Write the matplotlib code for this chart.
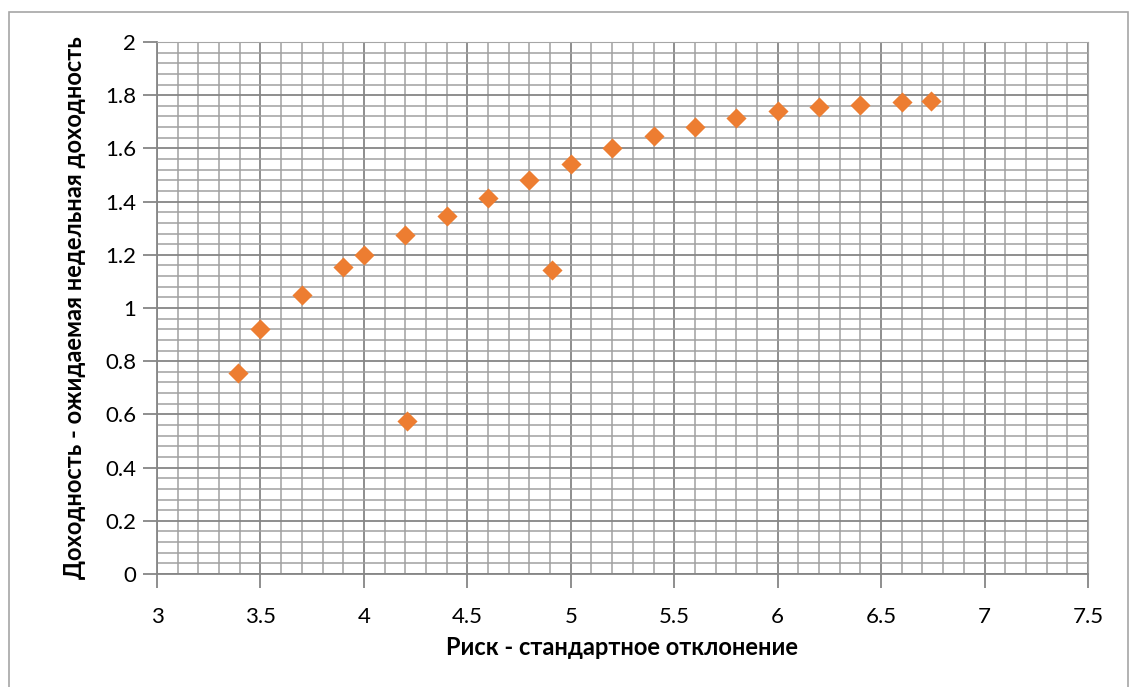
import matplotlib.pyplot as plt
from matplotlib.patches import Rectangle
from matplotlib.ticker import MultipleLocator

plt.rcParams['font.family'] = ['Lato', 'DejaVu Sans']

# риск (стандартное отклонение) и доходность портфелей
risk = [3.39, 3.50, 3.70, 3.90, 4.00, 4.20, 4.40, 4.60, 4.80, 5.00,
        5.20, 5.40, 5.60, 5.80, 6.00, 6.20, 6.40, 6.60, 6.74, 4.91, 4.21]
ret = [0.757, 0.922, 1.048, 1.155, 1.198, 1.276, 1.347, 1.414, 1.480, 1.543,
       1.602, 1.648, 1.680, 1.714, 1.740, 1.754, 1.765, 1.773, 1.780, 1.142, 0.575]

x_label = 'Риск - стандартное отклонение'
y_label = 'Доходность - ожидаемая недельная доходность'

fig = plt.figure(figsize=(11.33, 6.87), dpi=100)
ax = fig.add_axes([157 / 1133, 1 - 574 / 687, 931 / 1133, 532 / 687])

# рамка области диаграммы
fig.patches.append(Rectangle((9 / 1133, -0.05), 1119 / 1133, 1.05 - 12 / 687,
                             transform=fig.transFigure, fill=False,
                             edgecolor='#a6a6a6', linewidth=1.2))

ax.scatter(risk, ret, marker='D', s=105, color='#ed7d31', zorder=3,
           linewidths=0)

ax.set_xlim(3, 7.5)
ax.set_ylim(0, 2)
ax.xaxis.set_major_locator(MultipleLocator(0.5))
ax.xaxis.set_minor_locator(MultipleLocator(0.1))
ax.yaxis.set_major_locator(MultipleLocator(0.2))
ax.yaxis.set_minor_locator(MultipleLocator(0.04))
ax.xaxis.set_major_formatter(lambda v, p: f'{v:g}')
ax.yaxis.set_major_formatter(lambda v, p: f'{v:g}')

ax.grid(which='major', color='#868686', linewidth=1.3)
ax.grid(which='minor', color='#a0a0a0', linewidth=1.1)
ax.set_axisbelow(True)

for side in ['top', 'right']:
    ax.spines[side].set_color('#a6a6a6')
for side in ['left', 'bottom']:
    ax.spines[side].set_color('#868686')
    ax.spines[side].set_linewidth(1.3)

ax.tick_params(which='major', length=10, width=1.3, color='#868686',
               labelsize=16, pad=14)
ax.tick_params(axis='y', which='major', pad=5)
ax.tick_params(which='minor', length=0)

ax.set_xlabel(x_label, fontsize=17, fontweight='bold', labelpad=6)
ax.set_ylabel(y_label, fontsize=17, fontweight='bold', labelpad=14)

fig.savefig('out.png', dpi=100)
